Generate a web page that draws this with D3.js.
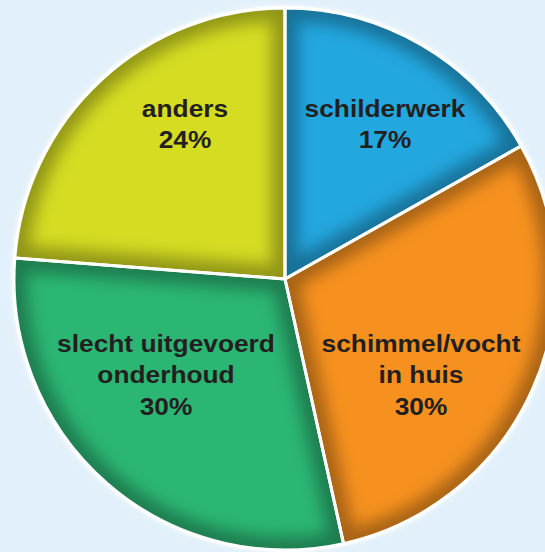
<!DOCTYPE html>
<html><head><meta charset="utf-8">
<script src="https://cdn.jsdelivr.net/npm/d3@7"></script>
<style>html,body{margin:0;padding:0;background:#e1f0fa;overflow:hidden}</style>
</head><body><div id="chart"></div>
<script>
const categories = ["schilderwerk", "schimmel/vocht in huis", "slecht uitgevoerd onderhoud", "anders"];
const values = [17, 30, 30, 24];
const labelLines = [["schilderwerk"], ["schimmel/vocht", "in huis"], ["slecht uitgevoerd", "onderhoud"], ["anders"]];
const colors = ["#23a7df", "#f6911f", "#2bb673", "#d5dc22"];

const W = 545, H = 552, cx = 285, cy = 279, R = 271;
const svg = d3.select("#chart").append("svg").attr("width", W).attr("height", H);
svg.append("rect").attr("width", W).attr("height", H).attr("fill", "#e1f0fa");
const defs = svg.append("defs");

const blur = defs.append("filter").attr("id", "blur").attr("filterUnits", "userSpaceOnUse")
  .attr("x", -400).attr("y", -400).attr("width", 800).attr("height", 800);
blur.append("feGaussianBlur").attr("stdDeviation", 8);

const g2 = defs.append("filter").attr("id", "glow").attr("x", "-20%").attr("y", "-20%").attr("width", "140%").attr("height", "140%");
g2.append("feGaussianBlur").attr("stdDeviation", 3);

const pie = d3.pie().sort(null).value(d => d)(values);
const arc = d3.arc().innerRadius(0).outerRadius(R);
const g = svg.append("g").attr("transform", `translate(${cx},${cy})`);

g.append("circle").attr("r", R + 2).attr("fill", "#ffffff").attr("opacity", 0.8).attr("filter", "url(#glow)");
g.append("circle").attr("r", R + 2).attr("fill", "#ffffff");

pie.forEach((d, i) => {
  defs.append("clipPath").attr("id", "clip" + i).append("path").attr("d", arc(d));
});

const slices = g.selectAll("g.slice").data(pie).enter().append("g").attr("class", "slice");
slices.append("path").attr("d", arc).attr("fill", (d, i) => colors[i]);
slices.append("g").attr("clip-path", (d, i) => `url(#clip${i})`)
  .append("path").attr("d", arc)
  .attr("fill", "none").attr("stroke", "#000").attr("stroke-opacity", 0.32)
  .attr("stroke-width", 26).attr("stroke-linejoin", "round")
  .attr("filter", "url(#blur)");

g.selectAll("path.sep").data(pie).enter().append("path")
  .attr("class", "sep")
  .attr("d", arc)
  .attr("fill", "none")
  .attr("stroke", "#ffffff")
  .attr("stroke-width", 3)
  .attr("stroke-linejoin", "round");

const labelPos = [[385, 117], [421, 352], [166, 352], [185, 117]];
const lh = 31.5;
pie.forEach((d, i) => {
  const t = svg.append("g").attr("transform", `translate(${labelPos[i][0]},${labelPos[i][1]}) scale(1.12,1)`);
  const lines = labelLines[i].concat([values[i] + "%"]);
  lines.forEach((s, k) => {
    t.append("text").attr("x", 0).attr("y", k * lh)
      .attr("text-anchor", "middle")
      .attr("font-family", "'Liberation Sans', Arial, Helvetica, sans-serif")
      .attr("font-weight", "bold").attr("font-size", 23.5)
      .attr("fill", "#231f20").text(s);
  });
});
</script></body></html>
